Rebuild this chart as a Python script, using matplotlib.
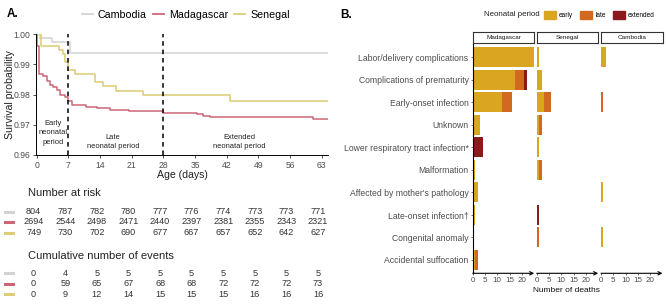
import matplotlib
matplotlib.use('Agg')
import matplotlib.pyplot as plt
import matplotlib.transforms as mtransforms
from matplotlib.lines import Line2D
from matplotlib.patches import Patch

plt.rcParams['font.family'] = ['Liberation Sans', 'DejaVu Sans']

# ---------------- data: panel A (Kaplan-Meier curves) ----------------
countries = ['Cambodia', 'Madagascar', 'Senegal']
line_colors = ['#D3D3D3', '#CC6677', '#DDCC77']

cam_days = [0, 0.7, 3.3, 7.4, 64.4]
cam_surv = [1.0, 0.9988, 0.9975, 0.9938, 0.9938]

mad_days = [0, 0.05, 0.5, 1.5, 2.2, 2.9, 3.7, 4.4, 5.2, 6.3, 7.0, 7.7, 11.0, 13.3,
            16.2, 20.3, 23.6, 28.0, 35.4, 36.8, 38.3, 61.1, 64.4]
mad_surv = [1.0, 0.9960, 0.9868, 0.9862, 0.9843, 0.9833, 0.9826, 0.9815, 0.9800,
            0.9792, 0.9779, 0.9764, 0.9760, 0.9756, 0.9750, 0.9746, 0.9744, 0.9740,
            0.9735, 0.9730, 0.9724, 0.9720, 0.9720]

sen_days = [0, 0.9, 5.0, 5.9, 6.3, 7.0, 8.5, 12.9, 14.6, 17.5, 23.6, 42.8, 64.4]
sen_surv = [1.0, 0.9960, 0.9947, 0.9933, 0.9907, 0.9880, 0.9867, 0.9840, 0.9827,
            0.9813, 0.9797, 0.9780, 0.9780]

period_cuts = [7, 28]
x_ticks = [0, 7, 14, 21, 28, 35, 42, 49, 56, 63]
y_ticks = [0.96, 0.97, 0.98, 0.99, 1.00]

table_days = [0, 7, 14, 21, 28, 35, 42, 49, 56, 63]
risk_cam = [804, 787, 782, 780, 777, 776, 774, 773, 773, 771]
risk_mad = [2694, 2544, 2498, 2471, 2440, 2397, 2381, 2355, 2343, 2321]
risk_sen = [749, 730, 702, 690, 677, 667, 657, 652, 642, 627]
events_cam = [0, 4, 5, 5, 5, 5, 5, 5, 5, 5]
events_mad = [0, 59, 65, 67, 68, 68, 72, 72, 72, 73]
events_sen = [0, 9, 12, 14, 15, 15, 15, 16, 16, 16]

# ---------------- data: panel B (causes of death) ----------------
causes = ['Labor/delivery complications', 'Complications of prematurity',
          'Early-onset infection', 'Unknown', 'Lower respiratory tract infection*',
          'Malformation', "Affected by mother's pathology", 'Late-onset infection\u2020',
          'Congenital anomaly', 'Accidental suffocation']
facets = ['Madagascar', 'Senegal', 'Cambodia']
periods = ['early', 'late', 'extended']
period_colors = ['#DAA520', '#D2691E', '#8B1A1A']

mad_early = [25, 17, 12, 3, 0, 1, 2, 1, 0, 1]
mad_late = [0, 4, 4, 0, 0, 0, 0, 0, 0, 1]
mad_ext = [0, 1, 0, 0, 4, 0, 0, 0, 0, 0]
sen_early = [1, 2, 3, 1, 1, 1, 0, 0, 0, 0]
sen_late = [0, 0, 3, 1, 0, 1, 0, 0, 1, 0]
sen_ext = [0, 0, 0, 0, 0, 0, 0, 1, 0, 0]
cam_early = [2, 0, 0, 0, 0, 0, 1, 0, 1, 0]
cam_late = [0, 0, 1, 0, 0, 0, 0, 0, 0, 0]
cam_ext = [0, 0, 0, 0, 0, 0, 0, 0, 0, 0]
b_ticks = [0, 5, 10, 15, 20]

# ---------------- figure ----------------
W, H = 666, 308
fig = plt.figure(figsize=(W / 100, H / 100), dpi=100)


def add_ax(l, t, r, b):
    return fig.add_axes([l / W, 1 - b / H, (r - l) / W, (b - t) / H])


def fx(x):
    return x / W


def fy(y):
    return 1 - y / H


GRAY30 = '#4D4D4D'

# ---- Panel A ----
axA = add_ax(36, 34, 328, 155)
series = [(cam_days, cam_surv), (mad_days, mad_surv), (sen_days, sen_surv)]
for (d, s), c in zip(series, line_colors):
    axA.step(d, s, where='post', color=c, lw=1.1)
for cut in period_cuts:
    axA.axvline(cut, color='black', lw=1.1, ls=(0, (3, 2.5)))
axA.set_xlim(-0.15, 64.4)
axA.set_ylim(0.96, 1.0)
axA.set_xticks(x_ticks)
axA.set_yticks(y_ticks)
axA.set_yticklabels(['%.2f' % v for v in y_ticks])
for sp in ['top', 'right']:
    axA.spines[sp].set_visible(False)
for sp in ['left', 'bottom']:
    axA.spines[sp].set_linewidth(0.7)
axA.tick_params(labelsize=6.2, labelcolor=GRAY30, color='#333333', length=2.5,
                width=0.6, pad=1.5)

axA.text(3.6, 0.9673, 'Early\nneonatal\nperiod', ha='center', va='center',
         fontsize=5.4, color='#222222', linespacing=1.45)
axA.text(16.9, 0.9644, 'Late\nneonatal period', ha='center', va='center',
         fontsize=5.4, color='#222222', linespacing=1.45)
axA.text(44.7, 0.9644, 'Extended\nneonatal period', ha='center', va='center',
         fontsize=5.4, color='#222222', linespacing=1.45)

fig.text(fx(10), fy(94.5), 'Survival probability', rotation=90, ha='center',
         va='center', fontsize=7.6, color='#222222')
fig.text(fx(182), fy(175), 'Age (days)', ha='center', va='center', fontsize=7.6,
         color='#222222')
fig.text(fx(7), fy(14), 'A.', ha='left', va='center', fontsize=8.5,
         fontweight='bold')

handles = [Line2D([], [], color=c, lw=1.3) for c in line_colors]
fig.legend(handles, countries, ncol=3, loc='center', bbox_to_anchor=(fx(186), fy(15)),
           frameon=False, fontsize=7.7, handlelength=1.0, handletextpad=0.45,
           columnspacing=0.6, borderpad=0, borderaxespad=0)


# risk tables
def table(top, rows_vals):
    ax = add_ax(33.0, top, 324.4, top + 31.5)
    ax.set_xlim(-0.15, 64.4)
    ax.set_ylim(2.5, -0.5)
    ax.axis('off')
    tr = mtransforms.blended_transform_factory(fig.transFigure, ax.transData)
    for i, (vals, c) in enumerate(zip(rows_vals, line_colors)):
        for d, v in zip(table_days, vals):
            ax.text(d, i, str(v), ha='center', va='center', fontsize=6.6,
                    color='#333333')
        ax.add_line(Line2D([fx(5), fx(13)], [i, i], color=c, lw=2.2,
                           transform=tr, clip_on=False))
    return ax


fig.text(fx(27.5), fy(193.3), 'Number at risk', ha='left', va='center',
         fontsize=8, color='#222222')
table(206.25, [risk_cam, risk_mad, risk_sen])
fig.text(fx(27.5), fy(256), 'Cumulative number of events', ha='left', va='center',
         fontsize=8, color='#222222')
table(268.0, [events_cam, events_mad, events_sen])

# ---- Panel B ----
fig.text(fx(340), fy(14.5), 'B.', ha='left', va='center', fontsize=8.5,
         fontweight='bold')
fig.text(fx(484), fy(14.7), 'Neonatal period', ha='left', va='center',
         fontsize=5.7, color='#222222')
fig.legend([Patch(color=c) for c in period_colors], periods, ncol=3,
           loc='center left', bbox_to_anchor=(fx(543.5), fy(14.7)), frameon=False,
           fontsize=4.7, handlelength=1.9, handleheight=1.6, handletextpad=0.5,
           columnspacing=1.0, borderpad=0, borderaxespad=0)

facet_data = {
    'Madagascar': (mad_early, mad_late, mad_ext),
    'Senegal': (sen_early, sen_late, sen_ext),
    'Cambodia': (cam_early, cam_late, cam_ext),
}
lefts = [472.7, 536.7, 601.0]
pw = 61.5
ypos = list(range(len(causes)))
for k, (name, lft) in enumerate(zip(facets, lefts)):
    ax = add_ax(lft, 43.8, lft + pw, 273.3)
    base = [0] * len(causes)
    for vals, c in zip(facet_data[name], period_colors):
        ax.barh(ypos, vals, left=base, height=0.9, color=c, lw=0)
        base = [b + v for b, v in zip(base, vals)]
    ax.set_xlim(0, 25)
    ax.set_ylim(9.6, -0.6)
    ax.set_xticks(b_ticks)
    for sp in ['top', 'right', 'bottom']:
        ax.spines[sp].set_visible(False)
    ax.tick_params(axis='x', labelsize=5.8, labelcolor=GRAY30, color='#333333',
                   length=1.5, width=0.5, pad=1.5)
    if k == 0:
        ax.spines['left'].set_linewidth(0.8)
        ax.set_yticks(ypos)
        ax.set_yticklabels(causes)
        ax.tick_params(axis='y', labelsize=6.2, labelcolor=GRAY30, color='#333333',
                       length=1.5, width=0.5, pad=1.5)
    else:
        ax.spines['left'].set_visible(False)
        ax.set_yticks([])
    ax.annotate('', xy=(1.0, 0), xytext=(0, 0), xycoords='axes fraction',
                textcoords='axes fraction', annotation_clip=False,
                arrowprops=dict(arrowstyle='->', lw=0.8, color='black',
                                shrinkA=0, shrinkB=0, mutation_scale=6))
    # facet strip
    sax = add_ax(lft, 32.3, lft + pw, 43.3)
    sax.set_xticks([])
    sax.set_yticks([])
    for sp in sax.spines.values():
        sp.set_linewidth(0.8)
        sp.set_color('#333333')
    sax.text(0.5, 0.5, name, ha='center', va='center', fontsize=4.6,
             color='#1A1A1A', transform=sax.transAxes)

fig.text(fx(566.7), fy(291), 'Number of deaths', ha='center', va='center',
         fontsize=6, color='#111111')

fig.savefig('out.png', dpi=100)
